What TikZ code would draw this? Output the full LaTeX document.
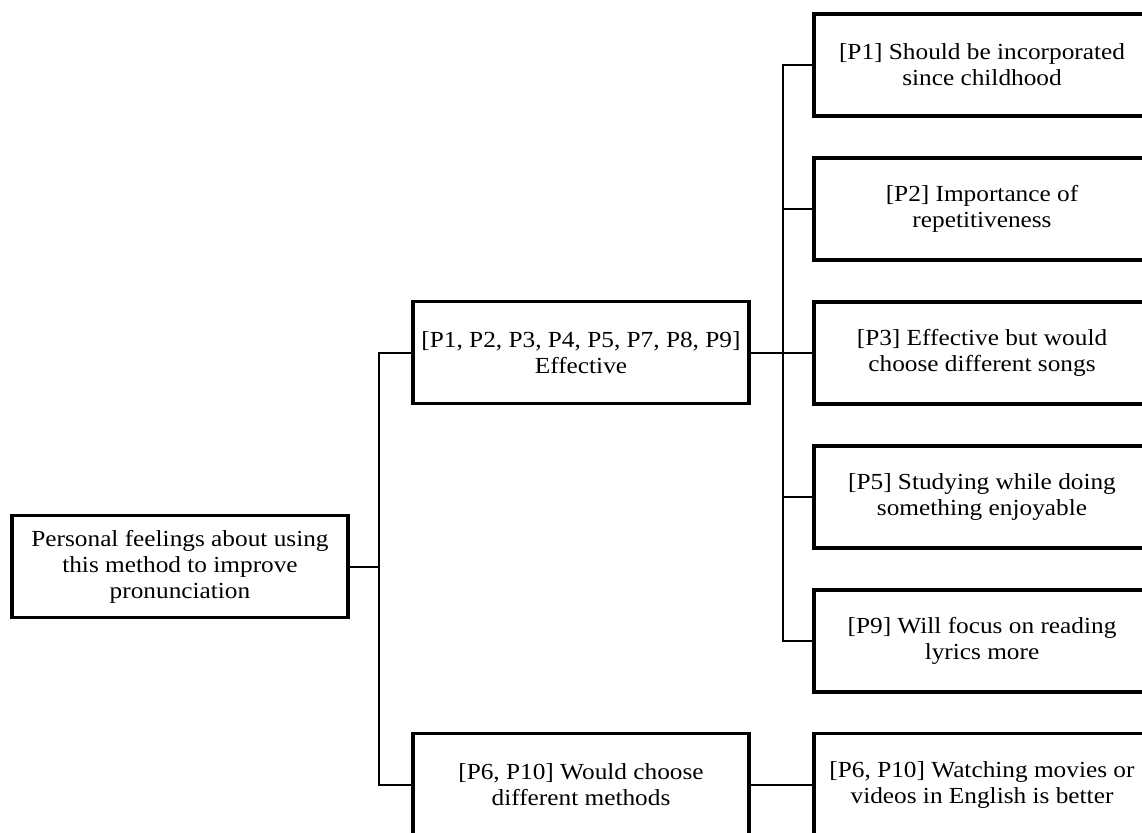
\documentclass[tikz,border=0pt]{standalone}
\usepackage{fontspec}
\setmainfont[FakeStretch=1.1]{Liberation Serif}
\begin{document}
\begin{tikzpicture}[x=1pt,y=-1pt,
  box/.style={draw, line width=3.6pt, minimum width=336pt, minimum height=102pt,
    inner sep=0pt, align=center, font=\fontsize{23pt}{26pt}\selectfont},
  conn/.style={draw, line width=2pt}]
\useasboundingbox (0,0) rectangle (1142,832);
\clip (0,0) rectangle (1142,832);
\fill[white] (0,0) rectangle (1142,832);
% nodes
\node[box] (root) at (180,566.5) {Personal feelings about using\\this method to improve\\pronunciation};
\node[box] (eff) at (581,352.5) {[P1, P2, P3, P4, P5, P7, P8, P9]\\Effective};
\node[box] (would) at (581,784.5) {[P6, P10] Would choose\\different methods};
\node[box] (p1) at (982,65) {[P1] Should be incorporated\\since childhood};
\node[box] (p2) at (982,209) {[P2] Importance of\\repetitiveness};
\node[box] (p3) at (982,353) {[P3] Effective but would\\choose different songs};
\node[box] (p5) at (982,497) {[P5] Studying while doing\\something enjoyable};
\node[box] (p9) at (982,641) {[P9] Will focus on reading\\lyrics more};
\node[box] (watch) at (982,784.5) {[P6, P10] Watching movies or\\videos in English is better};
% trunks
\coordinate (t1) at (379,0);
\coordinate (t2) at (783,0);
\draw[conn] (root.east) -- (root.east -| t1);
\draw[conn] (eff.west) -- (eff.west -| t1) -- (would.west -| t1) -- (would.west);
\draw[conn] (eff.east) -- (eff.east -| t2);
\draw[conn] (p1.west) -- (p1.west -| t2) -- (p9.west -| t2) -- (p9.west);
\draw[conn] (p2.west) -- (p2.west -| t2);
\draw[conn] (p3.west) -- (p3.west -| t2);
\draw[conn] (p5.west) -- (p5.west -| t2);
\draw[conn] (would.east) -- (watch.west);
\end{tikzpicture}
\end{document}
